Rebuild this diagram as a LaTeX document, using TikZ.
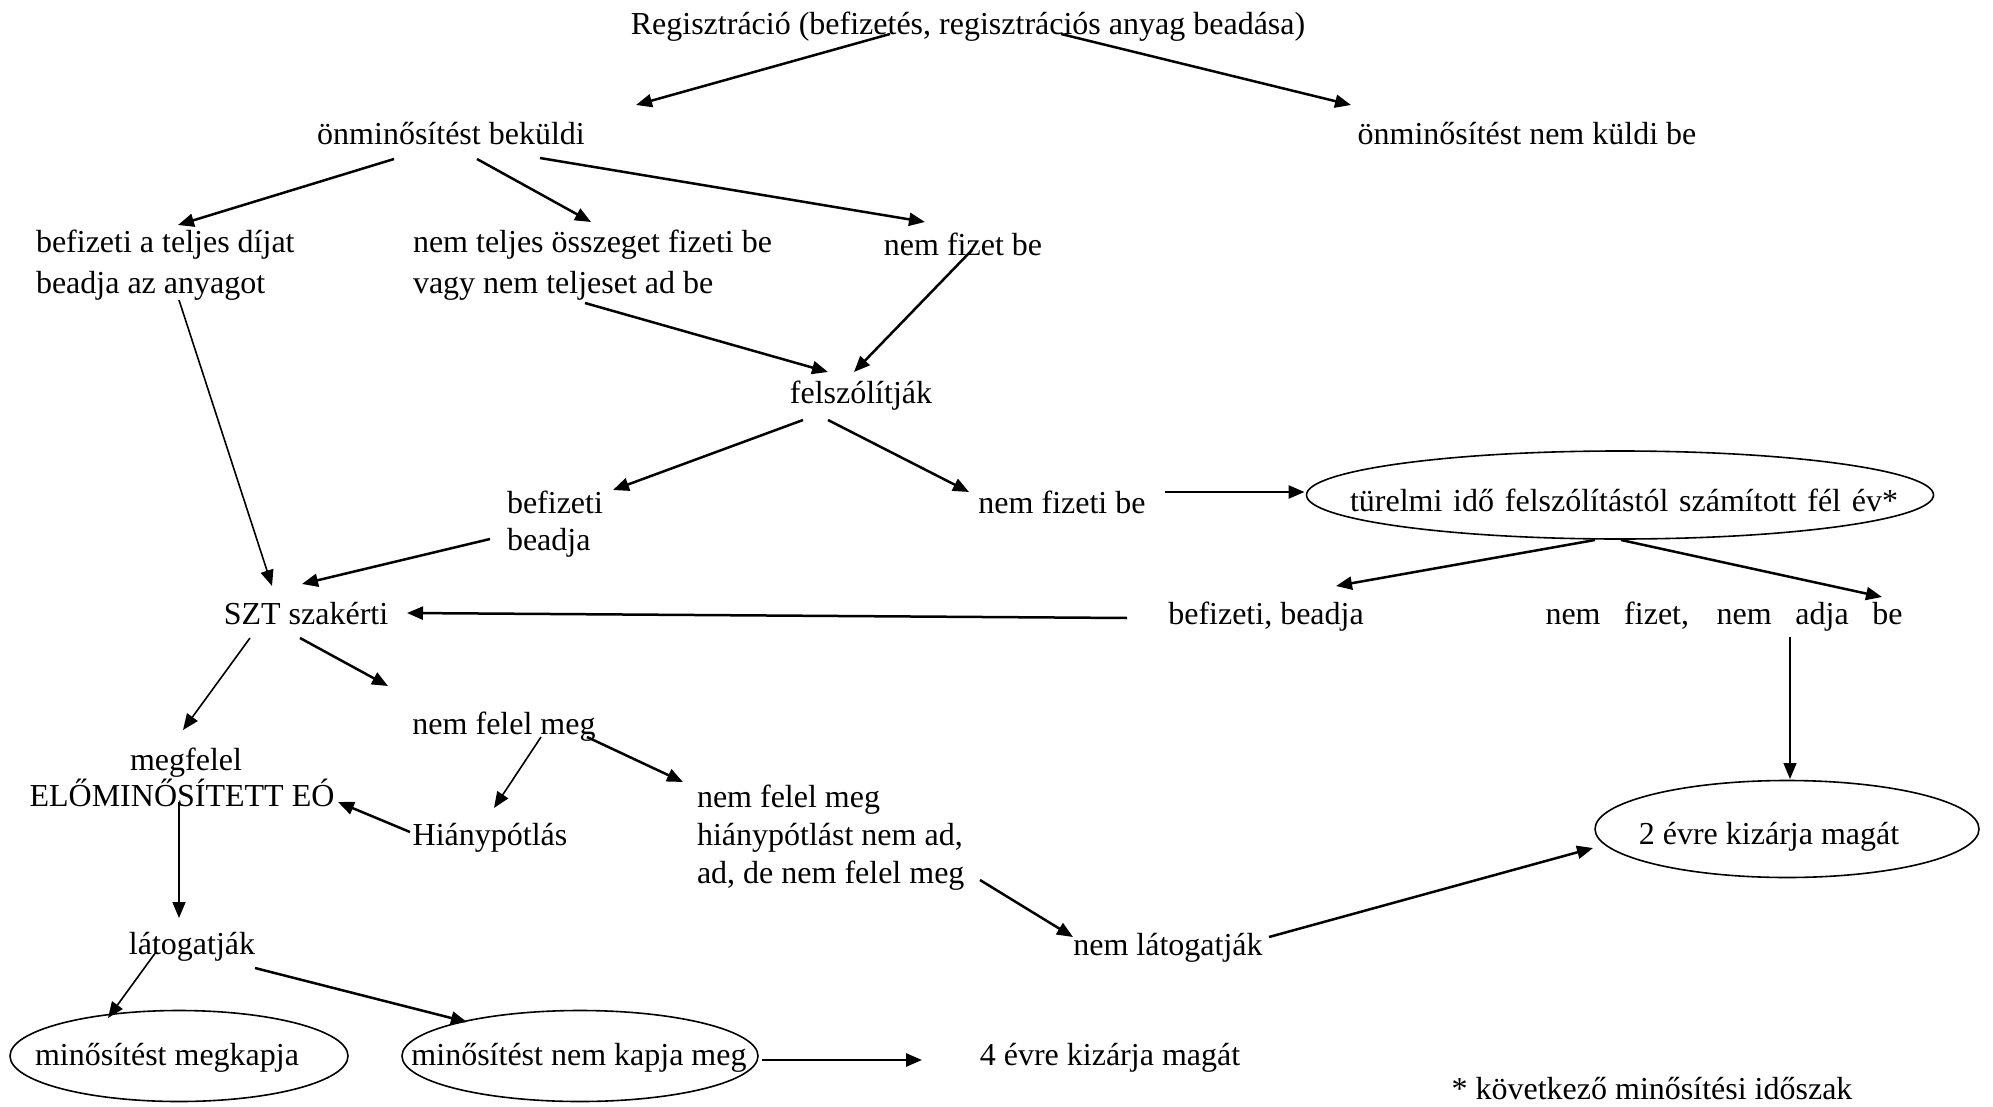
\documentclass[tikz,border=0pt]{standalone}
\usepackage{fontspec}
\setmainfont{Liberation Serif}
\usetikzlibrary{arrows.meta,shapes.geometric}
\begin{document}
\begin{tikzpicture}[x=1pt,y=-1pt,
  every node/.style={inner sep=0pt,outer sep=0pt,font=\fontsize{32pt}{39pt}\selectfont},
  txt/.style={anchor=base},
  txtl/.style={anchor=base west},
  oval/.style={draw,ellipse,line width=1.6pt},
  thk/.style={line width=2.5pt,-{Triangle[length=16pt,width=13pt]}},
  thn/.style={line width=1.6pt,-{Triangle[length=16pt,width=13pt]}}]
\useasboundingbox (0,0) rectangle (1993,1107);
% nodes
\node[txt] (reg) at (968,35) {Regisztráció (befizetés, regisztrációs anyag beadása)};
\node[txt] (onb) at (451,145) {önminősítést beküldi};
\node[txt] (onn) at (1527,145) {önminősítést nem küldi be};
\node[txtl] (bef1) at (36,253) {befizeti a teljes díjat};
\node[txtl] (bef2) at (36,293) {beadja az anyagot};
\node[txtl] (nt1) at (413,253) {nem teljes összeget fizeti be};
\node[txtl] (nt2) at (413,293) {vagy nem teljeset ad be};
\node[txt] (nfb) at (963,255) {nem fizet be};
\node[txt] (fel) at (861,403) {felszólítják};
\node[txtl] (bb1) at (507,513) {befizeti};
\node[txtl] (bb2) at (507,550) {beadja};
\node[txt] (nfz) at (1062,513) {nem fizeti be};
\node[oval,minimum width=627pt,minimum height=88pt] (tur) at (1620,495) {};
\node[txt] (turT) at (1624,511) {\makebox[548pt][s]{türelmi idő felszólítástól számított fél év*}};
\node[txt] (bfb) at (1266,624) {befizeti, beadja};
\node[txt] (nfn) at (1724,624) {\makebox[357pt][s]{nem fizet, nem adja be}};
\node[txt] (szt) at (306,624) {SZT szakérti};
\node[txt] (nfm) at (504,734) {nem felel meg};
\node[txt] (mgf) at (186,770) {megfelel};
\node[txt] (elo) at (182,806) {ELŐMINŐSÍTETT EÓ};
\node[txt] (hia) at (490,845) {Hiánypótlás};
\node[txtl] (nm1) at (697,807) {nem felel meg};
\node[txtl] (nm2) at (697,845) {hiánypótlást nem ad,};
\node[txtl] (nm3) at (697,883) {ad, de nem felel meg};
\node[txt] (nla) at (1168,955) {nem látogatják};
\node[oval,minimum width=384pt,minimum height=97pt] (ket) at (1787,829) {};
\node[txt] (ketT) at (1769,844) {2 évre kizárja magát};
\node[txt] (lat) at (192,954) {látogatják};
\node[oval,minimum width=338pt,minimum height=91pt] (mk) at (179,1056) {};
\node[txt] (mkT) at (167,1065) {minősítést megkapja};
\node[oval,minimum width=356pt,minimum height=91pt] (nk) at (580,1056) {};
\node[txt] (nkT) at (579,1065) {minősítést nem kapja meg};
\node[txt] (negy) at (1110,1065) {4 évre kizárja magát};
\node[txt] (foot) at (1652,1099) {* következő minősítési időszak};
% connectors
\draw[thk] ([shift={(-78,-1)}]reg.base) -- ([shift={(185,-40)}]onb.base);
\draw[thk] ([shift={(93,-1)}]reg.base) -- ([shift={(-176,-40)}]onn.base);
\draw[thk] ([shift={(-57,14)}]onb.base) -- ([shift={(142,-28)}]bef1.base west);
\draw[thk] ([shift={(26,14)}]onb.base) -- ([shift={(178,-31)}]nt1.base west);
\draw[thk] ([shift={(89,13)}]onb.base) -- ([shift={(-38,-33)}]nfb.base);
\draw[thk] ([shift={(9,-5)}]nfb.base) -- ([shift={(-7,-31)}]fel.base);
\draw[thk] ([shift={(172,10)}]nt2.base west) -- ([shift={(-33,-31)}]fel.base);
\draw[thk] ([shift={(-58,17)}]fel.base) -- ([shift={(106,-23)}]bb1.base west);
\draw[thk] ([shift={(-33,17)}]fel.base) -- ([shift={(-93,-21)}]nfz.base);
\draw[thk] ([shift={(103,-21)}]nfz.base) -- ([shift={(-2,-3)}]tur.west);
\draw[thk] ([shift={(-17,-11)}]bb2.base west) -- ([shift={(-4,-40)}]szt.base);
\draw[thn] ([shift={(143,7)}]bef2.base west) -- ([shift={(-34,-38)}]szt.base);
\draw[thk] ([shift={(-139,-6)}]bfb.base) -- ([shift={(101,-11)}]szt.base);
\draw[thk] ([shift={(-25,45)}]tur.center) -- ([shift={(70,-38)}]bfb.base);
\draw[thk] ([shift={(1,45)}]tur.center) -- ([shift={(158,-27)}]nfn.base);
\draw[thn] ([shift={(66,13)}]nfn.base) -- ([shift={(3,-50)}]ket.center);
\draw[thn] ([shift={(-56,14)}]szt.base) -- ([shift={(-3,-40)}]mgf.base);
\draw[thk] ([shift={(-6,14)}]szt.base) -- ([shift={(-116,-48)}]nfm.base);
\draw[thn] ([shift={(37,3)}]nfm.base) -- ([shift={(4,-37)}]hia.base);
\draw[thk] ([shift={(83,3)}]nfm.base) -- ([shift={(-14,-25)}]nm1.base west);
\draw[thk] ([shift={(-80,-13)}]hia.base) -- ([shift={(156,-4)}]elo.base);
\draw[thn] ([shift={(-3,-4)}]elo.base) -- ([shift={(-13,-36)}]lat.base);
\draw[thn] ([shift={(-36,-2)}]lat.base) -- ([shift={(-71,-38)}]mk.center);
\draw[thk] ([shift={(63,14)}]lat.base) -- ([shift={(-113,-34)}]nk.center);
\draw[thk] ([shift={(182,4)}]nk.center) -- ([shift={(-188,-5)}]negy.base);
\draw[thk] ([shift={(283,-3)}]nm3.base west) -- ([shift={(-95,-18)}]nla.base);
\draw[thk] ([shift={(101,-18)}]nla.base) -- ([shift={(-194,19)}]ket.center);
\end{tikzpicture}
\end{document}
